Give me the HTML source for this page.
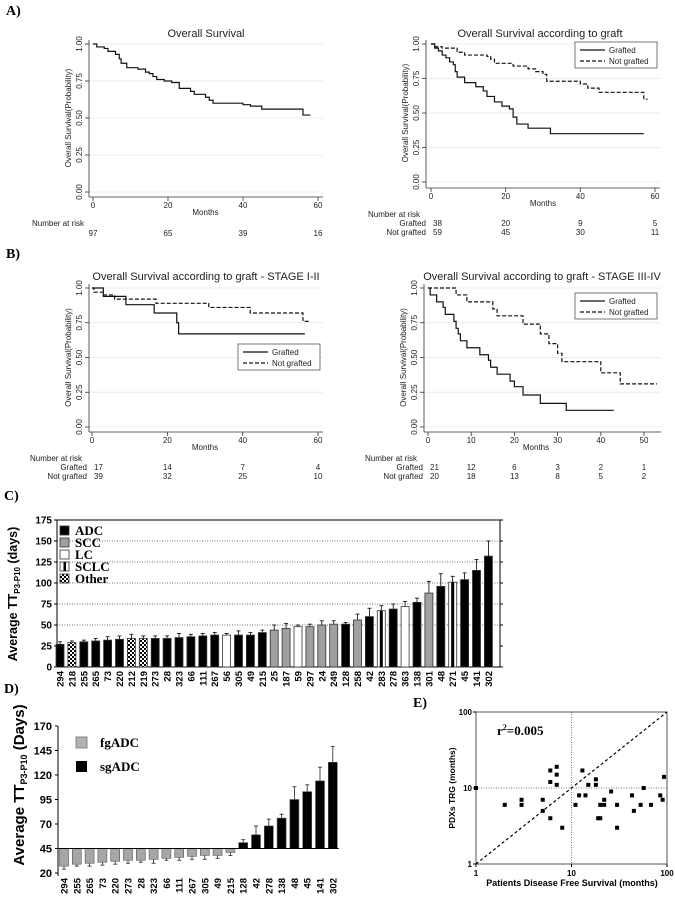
<!DOCTYPE html>
<html><head><meta charset="utf-8">
<style>
body{margin:0;background:#fff}
svg{display:block;font-family:"Liberation Sans",sans-serif}
.pl{font-family:"Liberation Serif",serif;font-weight:bold;font-size:14px}
.t{font-size:11px;fill:#222}
.tk{font-size:8px;fill:#222}
.b{font-weight:bold}
</style></head>
<body>
<svg id="fig" width="675" height="903" viewBox="0 0 675 903">
<text class="pl" x="6" y="15">A)</text>
<text class="pl" x="6" y="258">B)</text>
<text class="pl" x="4" y="500">C)</text>
<text class="pl" x="4" y="693">D)</text>
<text class="pl" x="413" y="707">E)</text>
<g id="layer"></g>
</svg>
<script>
// ---- KM data ----
const kmA_t=[0,1,3,4,6,7,7.5,9,12,14,15,16,17,19,21,23,26,27,30,31,32,40,42,45,56];
const kmA_s=[1,0.98,0.97,0.95,0.93,0.9,0.87,0.84,0.83,0.81,0.8,0.78,0.76,0.75,0.74,0.7,0.68,0.66,0.64,0.62,0.6,0.59,0.58,0.56,0.52];
const kmAg_t=[0,1,2,3,4,5,6,6.5,7,9,12,14,15,17,19,21,22,23,26,32];
const kmAg_s=[1,0.97,0.95,0.92,0.9,0.87,0.85,0.8,0.76,0.72,0.69,0.66,0.62,0.58,0.55,0.53,0.47,0.42,0.39,0.35];
const kmAn_t=[0,1,3,7,9,15,16,17,22,26,28,30,31,40,42,45,57];
const kmAn_s=[1,0.98,0.97,0.94,0.92,0.91,0.89,0.86,0.84,0.82,0.8,0.78,0.73,0.71,0.68,0.65,0.6];
const kmB1g_t=[0,3,9,16.5,22.5,23];
const kmB1g_s=[1,0.94,0.88,0.82,0.75,0.67];
const kmB1n_t=[0,0.5,3,6,17,31,42,56];
const kmB1n_s=[1,0.97,0.95,0.92,0.89,0.86,0.82,0.76];
const kmB2g_t=[0,0.5,2,3.5,4,6,6.5,7,7.5,9,12,14,14.5,16,19,20,22,26,32];
const kmB2g_s=[1,0.95,0.9,0.86,0.81,0.76,0.71,0.67,0.62,0.57,0.52,0.48,0.43,0.38,0.33,0.29,0.23,0.17,0.12];
const kmB2n_t=[0,6.5,9,15,16,22,26,28,30,31,40,44.5];
const kmB2n_s=[1,0.95,0.9,0.85,0.8,0.74,0.67,0.6,0.53,0.47,0.39,0.31];
// ---- Panel C data ----
const cCats=["294","218","255","265","73","220","212","219","273","28","323","66","111","267","56","305","49","215","25","187","59","297","24","249","128","258","42","283","278","363","138","301","48","271","45","141","302"];
const cVals=[27,29,30,31,32,33,34,34,34,34,35,36,37,38,38,38,38,41,44,46,48,48,50,51,51,56,60,67,69,72,77,88,96,101,104,115,132];
const cErr=[3,2,2,3,4,4,5,3,3,3,5,3,3,3,2,5,3,3,6,6,2,3,5,4,2,7,10,6,6,6,5,14,15,7,8,13,18];
const cType=["ADC","Other","ADC","ADC","ADC","ADC","Other","Other","ADC","ADC","ADC","ADC","ADC","ADC","LC","ADC","ADC","ADC","SCC","SCC","LC","SCC","SCC","SCC","ADC","SCC","ADC","SCLC","ADC","LC","ADC","SCC","ADC","SCLC","ADC","ADC","ADC"];
const cTicks=[0,25,50,75,100,125,150,175];
// ---- Panel D data ----
const dCats=["294","255","265","73","220","273","28","323","66","111","267","305","49","215","128","42","278","138","48","45","141","302"];
const dVals=[27,29,30,31,32,33,33,34,35,36,37,38,38,41,51,59,68,76,95,103,114,133];
const dErr=[3,2,3,3,3,3,2,4,2,3,3,4,3,3,3,9,7,4,13,7,14,16];
const dTicks=[20,45,70,95,120,145,170];
// ---- Panel E data ----
const eX=[1,2,3,3,5,5,6,6,6,7,7,7,8,11,12,13,14,15,18,18,19,20,20,22,22,26,30,30,43,45,53,57,68,85,90,93];
const eY=[10,6,7,6,7,5,17,12,4,19,15,11,3,6,8,17,8,11,13,11,4,4,6,6,7,9,6,3,8,5,6,10,6,8,7,14];

const NS="http://www.w3.org/2000/svg";
const layer=document.getElementById('layer');
function mk(tag,attrs,parent,txt){const e=document.createElementNS(NS,tag);for(const k in attrs)e.setAttribute(k,attrs[k]);if(txt!==undefined)e.textContent=txt;(parent||layer).appendChild(e);return e;}

function kmPanel(cfg){
  const g=mk('g',{});
  
  
  const X=t=>cfg.x0+(t-cfg.tmin)/(cfg.tmax-cfg.tmin)*(cfg.x1-cfg.x0);
  const Y=s=>cfg.y0+(cfg.y1-cfg.y0)*s;
  [0,0.25,0.5,0.75,1].forEach(v=>{
    mk('line',{x1:cfg.ax,x2:cfg.right,y1:Y(v),y2:Y(v),stroke:'#ececec','stroke-width':1},g);
    mk('line',{x1:cfg.ax-4,x2:cfg.ax,y1:Y(v),y2:Y(v),stroke:'#333','stroke-width':0.8},g);
    const tl=mk('text',{class:'tk',x:cfg.ax-7,y:Y(v),'text-anchor':'middle',transform:`rotate(-90 ${cfg.ax-7} ${Y(v)})`},g,v.toFixed(2));
    
    
  });
  mk('line',{x1:cfg.ax,x2:cfg.ax,y1:cfg.y1-4,y2:cfg.ab,stroke:'#333','stroke-width':0.8},g);
  mk('line',{x1:cfg.ax,x2:cfg.right,y1:cfg.ab,y2:cfg.ab,stroke:'#333','stroke-width':0.8},g);
  cfg.xt.forEach(v=>{
    mk('line',{x1:X(v),x2:X(v),y1:cfg.ab,y2:cfg.ab+4,stroke:'#333','stroke-width':0.8},g);
    const tl=mk('text',{class:'tk',x:X(v),y:cfg.ab+11,'text-anchor':'middle'},g,String(v));
    
    
  });
  const ml=mk('text',{class:'tk',x:(cfg.x0+cfg.x1)/2,y:cfg.ab+18,'text-anchor':'middle'},g,'Months');
  
  
  const yl=mk('text',{class:'tk',x:cfg.ax-18,y:(cfg.y0+cfg.y1)/2,'text-anchor':'middle',transform:`rotate(-90 ${cfg.ax-18} ${(cfg.y0+cfg.y1)/2})`},g,'Overall Survival(Probability)');
  
  
  const tt=mk('text',{class:'t',x:cfg.tx,y:cfg.ty,'text-anchor':'middle','font-size':cfg.tfs},g,cfg.title);
  
  
  cfg.series.forEach(s=>{
    let d=`M${X(s.t[0])},${Y(s.s[0])}`;
    for(let i=1;i<s.t.length;i++)d+=` H${X(s.t[i])} V${Y(s.s[i])}`;
    d+=` H${X(s.end)}`;
    const p=mk('path',{d:d,fill:'none',stroke:'#111','stroke-width':1.2,'stroke-dasharray':s.dash?'4,2':'none'},g);
    
    
  });
  if(cfg.leg){
    const L=cfg.leg;
    const lg=mk('g',{},g);
    
    
    mk('rect',{x:L[0],y:L[1],width:82,height:26,fill:'#fff',stroke:'#555','stroke-width':0.8},lg);
    mk('line',{x1:L[0]+5,x2:L[0]+30,y1:L[1]+8,y2:L[1]+8,stroke:'#111','stroke-width':1.2},lg);
    mk('line',{x1:L[0]+5,x2:L[0]+30,y1:L[1]+19,y2:L[1]+19,stroke:'#111','stroke-width':1.2,'stroke-dasharray':'4,2'},lg);
    mk('text',{class:'tk',x:L[0]+34,y:L[1]+11},lg,'Grafted');
    mk('text',{class:'tk',x:L[0]+34,y:L[1]+22},lg,'Not grafted');
  }
  // risk table
  const ry=cfg.ab+29;
  mk('text',{class:'tk',x:cfg.riskX,y:ry},g,'Number at risk');
  cfg.risk.forEach((row,ri)=>{
    const yy=ry+9*(ri+1)+(cfg.risk.length==1?1:0);
    if(row.lab)mk('text',{class:'tk',x:X(0)-5,y:yy,'text-anchor':'end'},g,row.lab);
    row.v.forEach((v,i)=>{
      const t=mk('text',{class:'tk',x:X(cfg.xt[i])+(i==0&&row.lab?2:0),y:yy,'text-anchor':(i==0&&row.lab)?'start':'middle'},g,String(v));
      
      
    });
  });
}
kmPanel({name:'overall-survival-chart',tmin:0,tmax:60,x0:93,x1:318,y1:44,y0:192,ax:89,ab:197,right:323,xt:[0,20,40,60],
  title:'Overall Survival',tx:206,ty:37,tfs:11.5,series:[{t:kmA_t,s:kmA_s,end:58,nm:'overall-curve'}],riskX:32,risk:[{v:[97,65,39,16]}]});
kmPanel({name:'survival-by-graft-chart',tmin:0,tmax:60,x0:431,x1:655,y1:44,y0:182,ax:426,ab:188,right:660,xt:[0,20,40,60],
  title:'Overall Survival according to graft',tx:540,ty:37,tfs:11.5,series:[{t:kmAg_t,s:kmAg_s,end:57},{t:kmAn_t,s:kmAn_s,end:58,dash:true}],leg:[575,42],riskX:368,
  risk:[{lab:'Grafted',v:[38,20,9,5]},{lab:'Not grafted',v:[59,45,30,11]}]});
kmPanel({name:'stage-1-2-chart',tmin:0,tmax:60,x0:92,x1:318,y1:288,y0:427,ax:89,ab:432,right:323,xt:[0,20,40,60],
  title:'Overall Survival according to graft - STAGE I-II',tx:206,ty:280,tfs:11,series:[{t:kmB1g_t,s:kmB1g_s,end:56.5},{t:kmB1n_t,s:kmB1n_s,end:58,dash:true}],leg:[238,344],riskX:30,
  risk:[{lab:'Grafted',v:[17,14,7,4]},{lab:'Not grafted',v:[39,32,25,10]}]});
kmPanel({name:'stage-3-4-chart',tmin:0,tmax:50,x0:428,x1:644,y1:288,y0:427,ax:424,ab:432,right:661,xt:[0,10,20,30,40,50],
  title:'Overall Survival according to graft - STAGE III-IV',tx:542,ty:280,tfs:11,series:[{t:kmB2g_t,s:kmB2g_s,end:43},{t:kmB2n_t,s:kmB2n_s,end:53,dash:true}],leg:[575,293],riskX:365,
  risk:[{lab:'Grafted',v:[21,12,6,3,2,1]},{lab:'Not grafted',v:[20,18,13,8,5,2]}]});

// ---- Panel C ----
const defs=mk('defs',{});
const pat=mk('pattern',{id:'chk',width:4,height:4,patternUnits:'userSpaceOnUse'},defs);
mk('rect',{width:4,height:4,fill:'#fff'},pat);mk('rect',{width:2,height:2,fill:'#000'},pat);mk('rect',{x:2,y:2,width:2,height:2,fill:'#000'},pat);
const fillOf={ADC:'#000',SCC:'#a0a0a0',LC:'#fff',SCLC:'#fff',Other:'url(#chk)'};
(function(){
  const g=mk('g',{});
  
  
  const L=57,R=500,B=667,T=520;
  const Y=v=>B-(v/175)*(B-T);
  const X=i=>60+i*11.9;
  cTicks.forEach(v=>{
    if(v>=50&&v<=150)mk('line',{x1:L,x2:R,y1:Y(v),y2:Y(v),stroke:'#444','stroke-width':0.8,'stroke-dasharray':'1,1.5'},g);
    mk('line',{x1:L-3,x2:L,y1:Y(v),y2:Y(v),stroke:'#000'},g);
    mk('line',{x1:R,x2:R+3,y1:Y(v),y2:Y(v),stroke:'#000'},g);
    const t=mk('text',{x:L-5,y:Y(v)+3.5,'text-anchor':'end','font-size':10,'font-weight':'bold'},g,String(v));
    
    
  });
  mk('rect',{x:L,y:T,width:R-L,height:B-T,fill:'none',stroke:'#000','stroke-width':1},g);
  cVals.forEach((v,i)=>{
    const x=X(i);
    mk('line',{x1:x,x2:x,y1:Y(v),y2:Y(v+cErr[i]),stroke:'#000','stroke-width':0.8},g);
    mk('line',{x1:x-2,x2:x+2,y1:Y(v+cErr[i]),y2:Y(v+cErr[i]),stroke:'#000','stroke-width':0.8},g);
    const r=mk('rect',{x:x-4,y:Y(v),width:8,height:B-Y(v),fill:fillOf[cType[i]],stroke:'#333','stroke-width':0.8},g);
    
    
    if(cType[i]=='SCLC')mk('rect',{x:x-1.5,y:Y(v),width:3,height:B-Y(v),fill:'#000'},g);
    const t=mk('text',{x:x+3.5,y:B+4,'text-anchor':'end','font-size':9.5,'font-weight':'bold',transform:`rotate(-90 ${x+3.5} ${B+4})`},g,cCats[i]);
    
    
  });
  const yl=mk('text',{x:17,y:594,'text-anchor':'middle','font-size':12.5,'font-weight':'bold',transform:'rotate(-90 17 594)'},g);
  
  
  mk('tspan',{},yl,'Average TT');mk('tspan',{'font-size':8,dy:3},yl,'P3-P10');mk('tspan',{dy:-3},yl,' (days)');
  const lg=mk('g',{},g);
  
  
  ['ADC','SCC','LC','SCLC','Other'].forEach((k,i)=>{
    const y=526+i*12;
    mk('rect',{x:60,y:y,width:9,height:9,fill:fillOf[k],stroke:'#333','stroke-width':0.8},lg);
    if(k=='SCLC')mk('rect',{x:63.5,y:y,width:2.5,height:9,fill:'#000'},lg);
    mk('text',{x:75,y:y+9,'font-family':'Liberation Serif, serif','font-weight':'bold','font-size':13},lg,k);
  });
})();

// ---- Panel D ----
(function(){
  const g=mk('g',{});
  
  
  const L=58,B0=873,T=726,base=45;
  const Y=v=>B0-(v-20)/150*(B0-T);
  const X=i=>64+i*12.8;
  mk('line',{x1:L,x2:L,y1:T,y2:B0+3,stroke:'#000','stroke-width':1},g);
  dTicks.forEach(v=>{
    mk('line',{x1:L-3,x2:L,y1:Y(v),y2:Y(v),stroke:'#000'},g);
    const t=mk('text',{x:L-6,y:Y(v)+4,'text-anchor':'end','font-size':11,'font-weight':'bold'},g,String(v));
    
    
  });
  dVals.forEach((v,i)=>{
    const x=X(i);const grey=v<base;
    const eEnd=grey?v-dErr[i]:v+dErr[i];
    mk('line',{x1:x,x2:x,y1:Y(v),y2:Y(eEnd),stroke:'#222','stroke-width':0.8},g);
    mk('line',{x1:x-2,x2:x+2,y1:Y(eEnd),y2:Y(eEnd),stroke:'#222','stroke-width':0.8},g);
    const y1=Math.min(Y(v),Y(base)),h=Math.abs(Y(v)-Y(base));
    const r=mk('rect',{x:x-4.5,y:y1,width:9,height:h,fill:grey?'#a6a6a6':'#000',stroke:'#555','stroke-width':0.6},g);
    
    
    const t=mk('text',{x:x+3.5,y:B0+5,'text-anchor':'end','font-size':9.5,'font-weight':'bold',transform:`rotate(-90 ${x+3.5} ${B0+5})`},g,dCats[i]);
    
    
  });
  mk('line',{x1:L,x2:X(dCats.length-1)+6,y1:Y(base),y2:Y(base),stroke:'#000','stroke-width':1},g);
  const yl=mk('text',{x:24,y:785,'text-anchor':'middle','font-size':15,'font-weight':'bold',transform:'rotate(-90 24 785)'},g);
  
  
  mk('tspan',{},yl,'Average TT');mk('tspan',{'font-size':9,dy:3},yl,'P3-P10');mk('tspan',{dy:-3},yl,' (Days)');
  const lg=mk('g',{},g);
  
  
  mk('rect',{x:76,y:737,width:11,height:11,fill:'#b0b0b0',stroke:'#888'},lg);
  mk('text',{x:100,y:747,'font-family':'Liberation Serif, serif','font-weight':'bold','font-size':13},lg,'fgADC');
  mk('rect',{x:76,y:761,width:11,height:11,fill:'#000'},lg);
  mk('text',{x:100,y:771,'font-family':'Liberation Serif, serif','font-weight':'bold','font-size':13},lg,'sgADC');
})();

// ---- Panel E ----
(function(){
  const g=mk('g',{});
  
  
  const L=476,R=667,T=712,B=864;
  const X=v=>L+Math.log10(v)/2*(R-L);
  const Y=v=>B-Math.log10(v)/2*(B-T);
  mk('line',{x1:X(10),x2:X(10),y1:T,y2:B,stroke:'#555','stroke-width':0.8,'stroke-dasharray':'1,1.5'},g);
  mk('line',{x1:L,x2:R,y1:Y(10),y2:Y(10),stroke:'#555','stroke-width':0.8,'stroke-dasharray':'1,1.5'},g);
  mk('rect',{x:L,y:T,width:R-L,height:B-T,fill:'none',stroke:'#555','stroke-width':1},g);
  mk('line',{x1:X(1),y1:Y(1),x2:X(100),y2:Y(100),stroke:'#000','stroke-width':1.2,'stroke-dasharray':'3,2.5'},g);
  [1,10,100].forEach(v=>{
    mk('line',{x1:L-3,x2:L,y1:Y(v),y2:Y(v),stroke:'#000'},g);
    mk('line',{x1:X(v),x2:X(v),y1:B,y2:B+3,stroke:'#000'},g);
    const a=mk('text',{x:L-4,y:Y(v)+3,'text-anchor':'end','font-size':8,'font-weight':'bold'},g,String(v));
    
    
    const b=mk('text',{x:X(v),y:B+12,'text-anchor':'middle','font-size':8,'font-weight':'bold'},g,String(v));
    
    
  });
  eX.forEach((x,i)=>{
    const p=mk('rect',{x:X(x)-2,y:Y(eY[i])-2,width:4,height:4,fill:'#000'},g);
    
    
  });
  const r2=mk('text',{x:497,y:735,'font-family':'Liberation Serif, serif','font-weight':'bold','font-size':13},g);
  
  
  mk('tspan',{},r2,'r');mk('tspan',{'font-size':8,dy:-5},r2,'2');mk('tspan',{dy:5},r2,'=0.005');
  const xl=mk('text',{x:572,y:886,'text-anchor':'middle','font-size':9,'font-weight':'bold'},g,'Patients Disease Free Survival (months)');
  
  
  const yl=mk('text',{x:455,y:788,'text-anchor':'middle','font-size':8.5,'font-weight':'bold',transform:'rotate(-90 455 788)'},g,'PDXs TRG (months)');
  
  
})();
</script>
</body></html>
